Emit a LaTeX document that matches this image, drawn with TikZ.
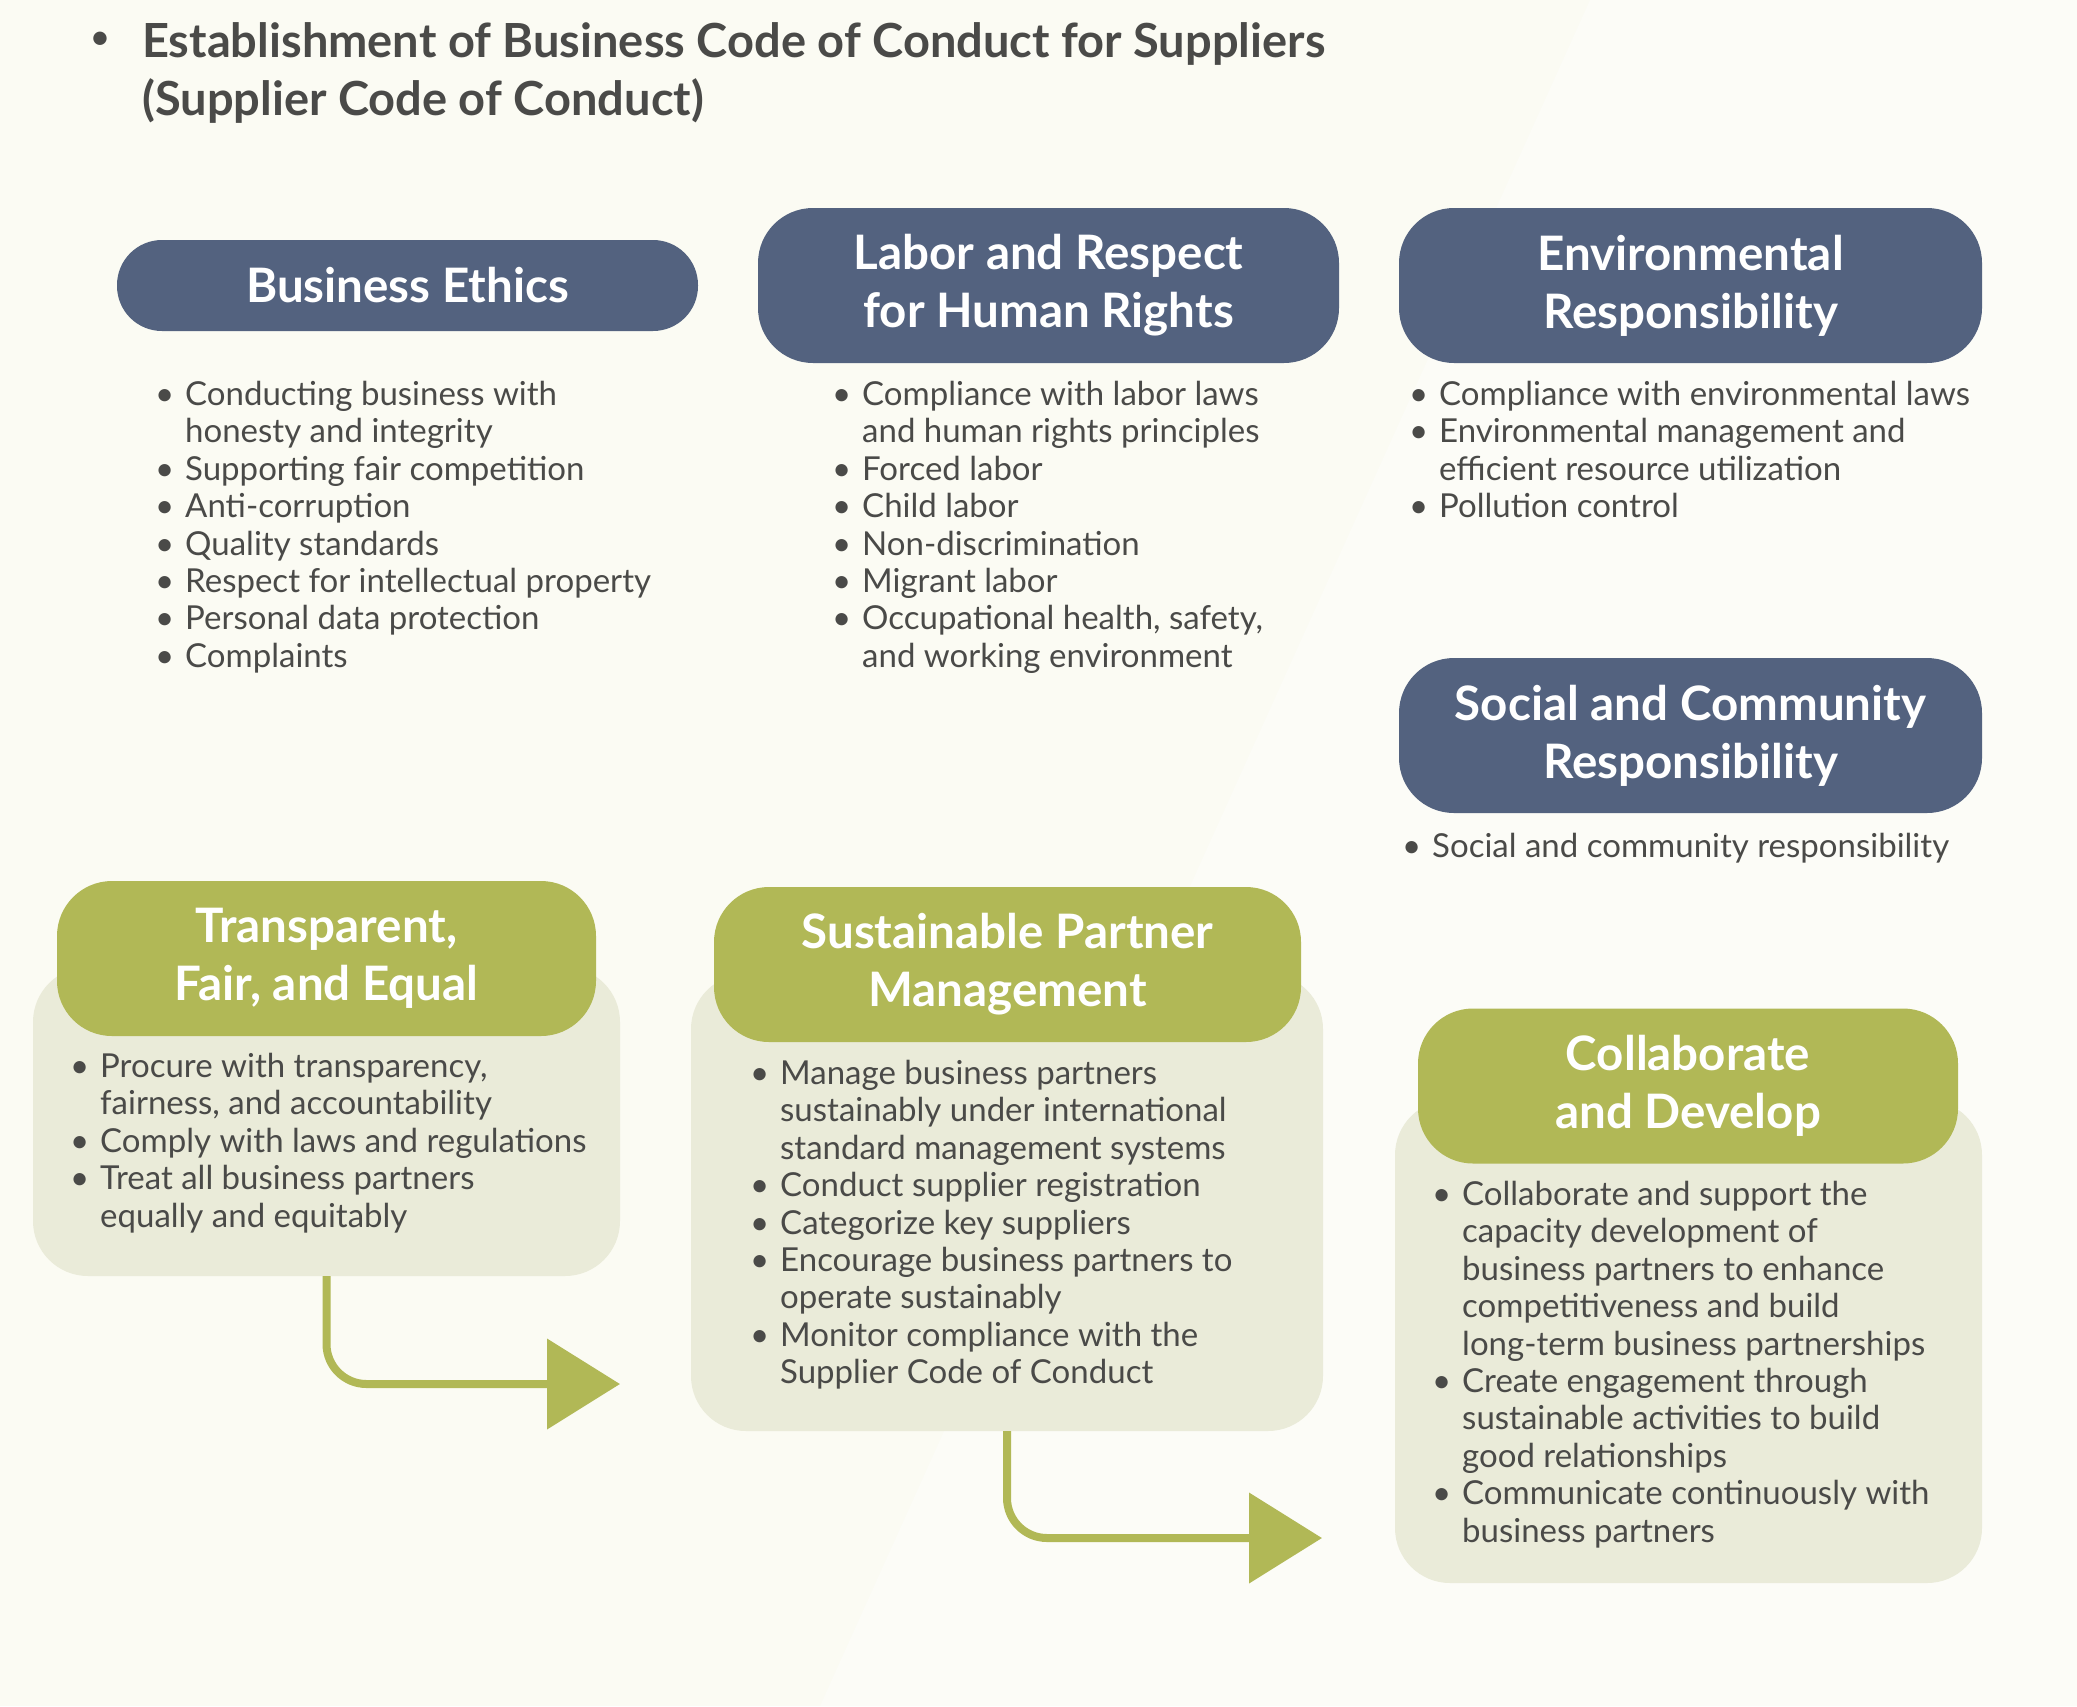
\documentclass[tikz,border=0pt]{standalone}
\usepackage{fontspec}
\setmainfont{Lato}
\usetikzlibrary{arrows.meta}
\definecolor{bg}{HTML}{FBFBF3}
\definecolor{bglight}{HTML}{FCFCF7}
\definecolor{navy}{HTML}{53627F}
\definecolor{olive}{HTML}{B1B856}
\definecolor{panel}{HTML}{EAEBD9}
\definecolor{txt}{HTML}{4A4A48}
\newlength{\bw}\setlength{\bw}{30pt}
\newcommand{\bl}[1]{\makebox[\bw][l]{\textbullet}#1}
\newcommand{\ct}[1]{\hspace*{\bw}#1}
\begin{document}
\begin{tikzpicture}[x=1pt,y=-1pt,
  pillbase/.style={rounded corners=55pt, text=white, align=center, inner sep=0pt,
    font=\fontsize{47.5}{58}\selectfont\bfseries},
  navypill/.style={pillbase, fill=navy},
  olivepill/.style={pillbase, fill=olive},
  panelbox/.style={fill=panel, rounded corners=55pt, inner sep=0pt},
  itemlist/.style={anchor=north west, align=left, inner sep=0pt, text=txt,
    font=\fontsize{33}{37.4}\selectfont},
  titletext/.style={anchor=north west, align=left, inner sep=0pt, text=txt,
    font=\fontsize{47}{58}\selectfont\bfseries},
  flow/.style={draw=olive, line width=8pt, rounded corners=40pt,
    -{Triangle[length=73pt,width=89pt]}}]
\useasboundingbox (0,0) rectangle (2077,1706);
\fill[bg] (0,0) rectangle (2077,1706);
\fill[bglight] (1590,0) -- (2077,0) -- (2077,1706) -- (820,1706) -- cycle;

% title
\node[text=txt, inner sep=0pt, font=\fontsize{36}{40}\selectfont] (tbul) at (100,41) {\textbullet};
\node[titletext] (title) at (142,22) {Establishment of Business Code of Conduct for Suppliers\\(Supplier Code of Conduct)};

% top row pills
\node[navypill, minimum width=581pt, minimum height=91pt, rounded corners=45pt] (be) at (407.5,285.5) {Business Ethics};
\node[navypill, minimum width=581pt, minimum height=155pt] (lab) at (1048.5,285.5) {Labor and Respect\\for Human Rights};
\node[navypill, minimum width=583pt, minimum height=155pt] (env) at (1690.5,285.5) {Environmental\\Responsibility};
\node[navypill, minimum width=583pt, minimum height=155pt] (soc) at (1690.5,735.5) {Social and Community\\Responsibility};

% top lists
\node[itemlist] (belist) at (155,381) {\bl{Conducting business with}\\\ct{honesty and integrity}\\\bl{Supporting fair competition}\\\bl{Anti-corruption}\\\bl{Quality standards}\\\bl{Respect for intellectual property}\\\bl{Personal data protection}\\\bl{Complaints}};
\node[itemlist] (lablist) at (832,381) {\bl{Compliance with labor laws}\\\ct{and human rights principles}\\\bl{Forced labor}\\\bl{Child labor}\\\bl{Non-discrimination}\\\bl{Migrant labor}\\\bl{Occupational health, safety,}\\\ct{and working environment}};
\node[itemlist] (envlist) at (1409,381) {\bl{Compliance with environmental laws}\\\bl{Environmental management and}\\\ct{efficient resource utilization}\\\bl{Pollution control}};
\node[itemlist] (soclist) at (1402,833) {\bl{Social and community responsibility}};

% bottom panels
\node[panelbox, minimum width=587pt, minimum height=309pt] (tpanel) at (326.5,1121.5) {};
\node[panelbox, minimum width=632pt, minimum height=457pt] (spanel) at (1007,1202.5) {};
\node[panelbox, minimum width=587pt, minimum height=483pt] (cpanel) at (1688.5,1341.5) {};

\node[olivepill, minimum width=539pt, minimum height=155pt] (tfe) at (326.5,958.5) {Transparent,\\Fair, and Equal};
\node[olivepill, minimum width=587pt, minimum height=155pt] (spm) at (1007.5,964.5) {Sustainable Partner\\Management};
\node[olivepill, minimum width=540pt, minimum height=155pt] (cad) at (1688,1086) {Collaborate\\and Develop};

\node[itemlist] (tlist) at (70,1053) {\bl{Procure with transparency,}\\\ct{fairness, and accountability}\\\bl{Comply with laws and regulations}\\\bl{Treat all business partners}\\\ct{equally and equitably}};
\node[itemlist] (slist) at (750,1060) {\bl{Manage business partners}\\\ct{sustainably under international}\\\ct{standard management systems}\\\bl{Conduct supplier registration}\\\bl{Categorize key suppliers}\\\bl{Encourage business partners to}\\\ct{operate sustainably}\\\bl{Monitor compliance with the}\\\ct{Supplier Code of Conduct}};
\node[itemlist] (clist) at (1432,1181) {\bl{Collaborate and support the}\\\ct{capacity development of}\\\ct{business partners to enhance}\\\ct{competitiveness and build}\\\ct{long-term business partnerships}\\\bl{Create engagement through}\\\ct{sustainable activities to build}\\\ct{good relationships}\\\bl{Communicate continuously with}\\\ct{business partners}};

% connectors
\coordinate (a1end) at (620,1384);
\coordinate (a2end) at (1322,1538);
\draw[flow] (tpanel.south) |- (a1end);
\draw[flow] (spanel.south) |- (a2end);
\end{tikzpicture}
\end{document}
